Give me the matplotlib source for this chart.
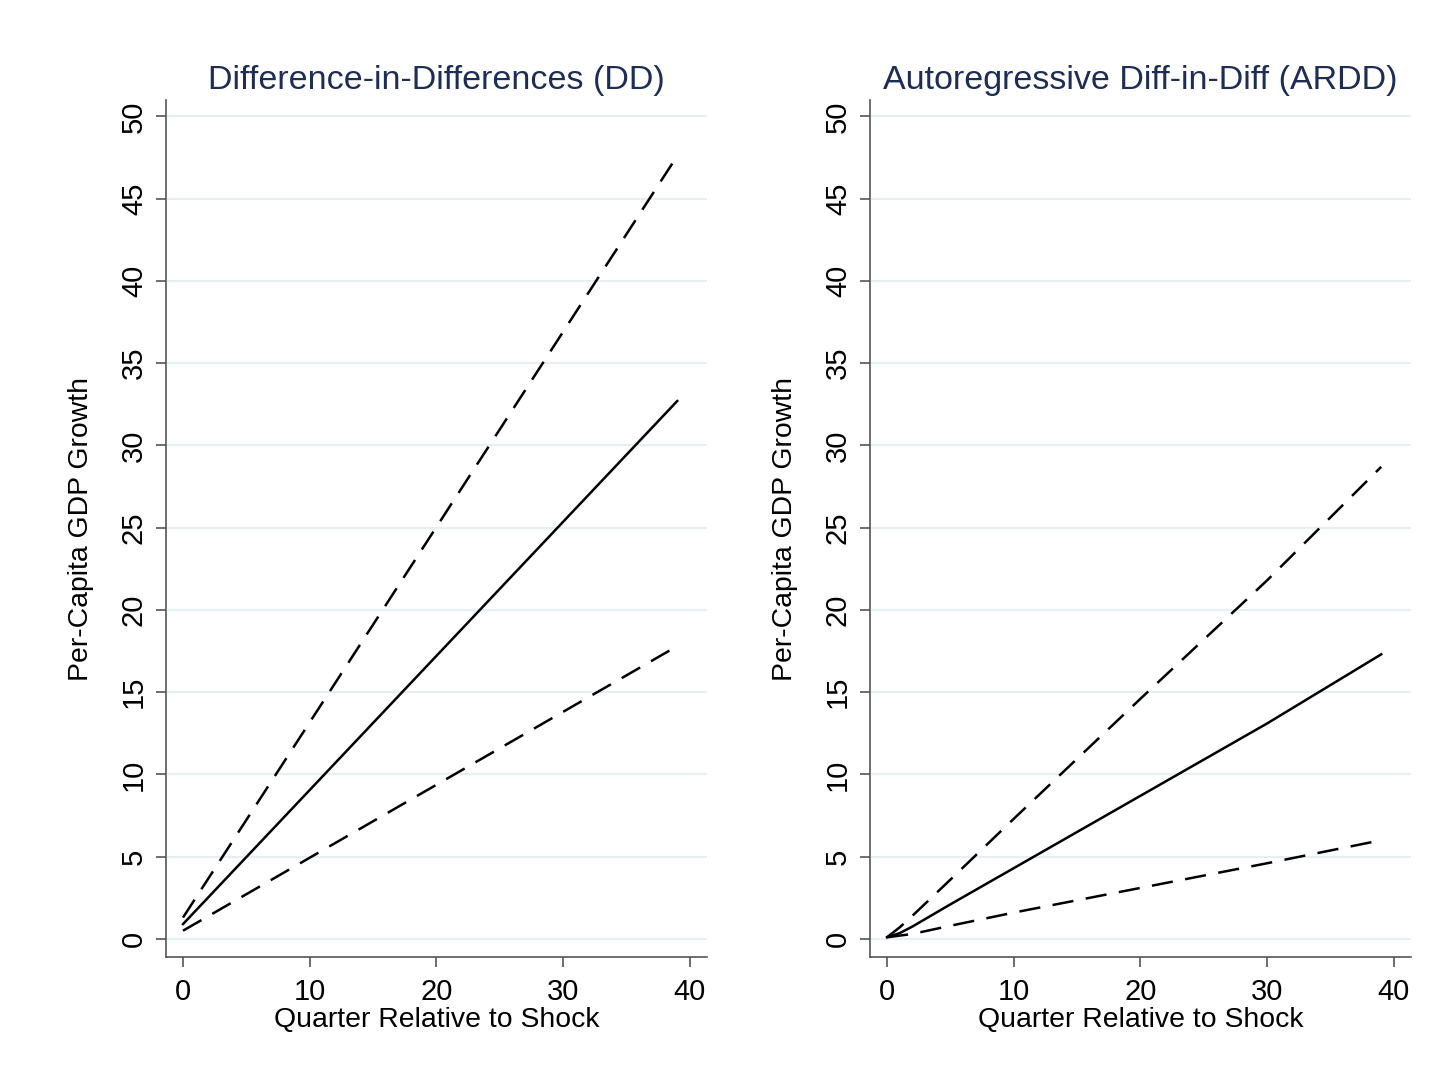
import matplotlib.pyplot as plt

### Data -----------------------------------------------------------------

# Difference-in-Differences (DD)
dd_quarter = [0, 39]
dd_est = [0.9, 32.7]
dd_upper = [1.3, 47.6]
dd_lower = [0.5, 17.8]

# Autoregressive Diff-in-Diff (ARDD)
ardd_quarter = [0, 1, 2, 5, 10, 20, 30, 39]
ardd_est = [0.1, 0.35, 0.75, 2.1, 4.3, 8.7, 13.1, 17.3]
ardd_upper = [0.1, 0.7, 1.4, 3.6, 7.3, 14.6, 21.8, 28.7]
ardd_lower = [0.1, 0.2, 0.3, 0.8, 1.6, 3.1, 4.6, 6.0]

titles = ["Difference-in-Differences (DD)", "Autoregressive Diff-in-Diff (ARDD)"]
xticks = [0, 10, 20, 30, 40]
yticks = [0, 5, 10, 15, 20, 25, 30, 35, 40, 45, 50]

### Figure ---------------------------------------------------------------

plt.rcParams["font.family"] = ["Liberation Sans", "DejaVu Sans"]

fig = plt.figure(figsize=(14.5, 10.81), dpi=100)
ax_dd = fig.add_axes([0.1145, 0.1147, 0.3731, 0.7928])
ax_ardd = fig.add_axes([0.6, 0.1147, 0.3731, 0.7928])

panels = [
    (ax_dd, dd_quarter, dd_est, dd_upper, dd_lower),
    (ax_ardd, ardd_quarter, ardd_est, ardd_upper, ardd_lower),
]

for i, (ax, q, est, up, lo) in enumerate(panels):
    ax.plot(q, est, color="black", lw=1.8, solid_joinstyle="round")
    ax.plot(q, up, color="black", lw=1.8, dashes=(8.5, 5))
    ax.plot(q, lo, color="black", lw=1.8, dashes=(8.5, 5))

    ax.set_xlim(-1.34, 41.35)
    ax.set_ylim(-1.1, 51.0)
    ax.set_xticks(xticks)
    ax.set_yticks(yticks)
    ax.yaxis.grid(True, color="#e6eff1", lw=1.6)
    ax.set_axisbelow(True)

    for side in ["top", "right"]:
        ax.spines[side].set_visible(False)
    for side in ["left", "bottom"]:
        ax.spines[side].set_color("#555555")
        ax.spines[side].set_linewidth(1.2)

    ax.tick_params(axis="both", direction="out", length=7, width=1.2,
                   color="#555555", labelsize=21)
    ax.tick_params(axis="x", pad=8)
    ax.tick_params(axis="y", pad=6)
    for lab in ax.get_yticklabels():
        lab.set_rotation(90)
        lab.set_va("center")

    ax.set_title(titles[i], fontsize=24.5, color="#1e2d55", pad=8)
    ax.set_xlabel("Quarter Relative to Shock", fontsize=20.4, labelpad=1)
    ax.set_ylabel("Per-Capita GDP Growth", fontsize=20.4, labelpad=19)

fig.savefig("out.png", dpi=100)
